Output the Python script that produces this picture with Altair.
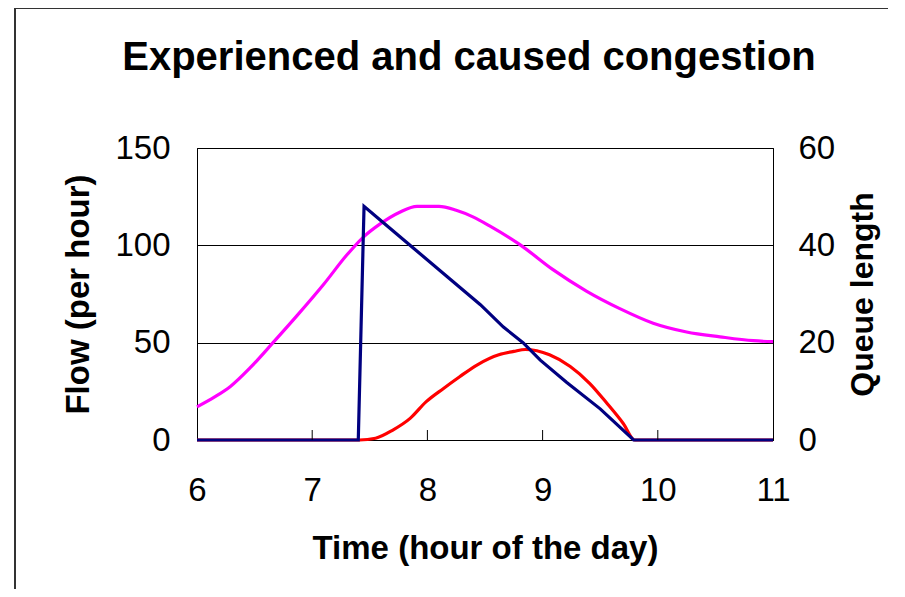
import altair as alt
import pandas as pd

# ---- data ----
flow_t = [6.0, 6.15, 6.29, 6.46, 6.66, 6.87, 7.10, 7.30, 7.44, 7.59, 7.76, 7.91, 8.00,
          8.10, 8.25, 8.40, 8.54, 8.80, 9.09, 9.38, 9.67, 9.96, 10.25, 10.54, 10.83, 11.0]
flow_v = [17, 22, 27.5, 37, 50, 64, 80, 95, 104, 111, 117, 120, 120,
          120, 118, 114.5, 110, 100.5, 87.5, 76.5, 67.5, 60, 55.5, 53, 51, 50.5]

caused_t = [6.0, 7.40, 7.45, 7.59, 7.88, 8.17, 8.46, 8.66, 8.83, 8.98, 9.21, 9.50, 9.79, 11.0]
caused_v = [0, 0, 120, 113, 98.5, 84, 69.5, 58, 50, 41, 29.5, 16, 0, 0]

queue_t = [6.0, 7.41, 7.55, 7.70, 7.85, 7.99, 8.14, 8.28, 8.43, 8.62, 8.75, 8.85,
           9.06, 9.24, 9.41, 9.56, 9.70, 9.80, 11.0]
queue_v = [0, 0, 0.36, 2.04, 4.44, 7.88, 10.6, 13.0, 15.4, 17.5, 18.2, 18.6,
           17.5, 15.1, 11.6, 7.5, 3.4, 0, 0]

x_ticks = [6, 7, 8, 9, 10, 11]
inner_ticks = [7, 8, 9, 10]
flow_ticks = [0, 50, 100, 150]
queue_ticks = [0, 20, 40, 60]
title_text = ["Experienced and caused congestion"]

W, H = 576, 292
FONT = "Liberation Sans"

flow_df = pd.DataFrame({"t": flow_t, "v": flow_v})
caused_df = pd.DataFrame({"t": caused_t, "v": caused_v})
queue_df = pd.DataFrame({"t": queue_t, "q": queue_v})
tick_df = pd.DataFrame({"t": inner_ticks})
title_df = pd.DataFrame({"label": title_text})

x_scale = alt.Scale(domain=[6, 11], nice=False, zero=False)
x_axis = alt.Axis(
    title="Time (hour of the day)", values=x_ticks, format="d",
    labelFontSize=33, labelPadding=60, labelBaseline="alphabetic",
    labelFlush=False, labelOverlap=False, ticks=False, tickSize=0,
    grid=False, domainColor="black",
    titleFontSize=33, titleX=W / 2, titleY=118, titleBaseline="alphabetic",
    titleAlign="center",
)
X = alt.X("t:Q", scale=x_scale, axis=x_axis)

flow_scale = alt.Scale(domain=[0, 150], nice=False)

flow = alt.Chart(flow_df).mark_line(
    color="#FF00FF", strokeWidth=3.2, interpolate="monotone"
).encode(
    x=X,
    y=alt.Y("v:Q", scale=flow_scale, axis=alt.Axis(
        title="Flow (per hour)", values=flow_ticks, orient="left",
        labelFontSize=33, labelPadding=27, ticks=False, tickSize=0,
        grid=True, gridColor="black", gridWidth=1, domainColor="black",
        titleFontSize=33, titleAngle=270, titleX=-119, titleY=H / 2,
        titleAlign="center", titleBaseline="middle",
    )),
)

queue = alt.Chart(queue_df).mark_line(
    color="#FF0000", strokeWidth=3.2, interpolate="monotone"
).encode(
    x=X,
    y=alt.Y("q:Q", scale=alt.Scale(domain=[0, 60], nice=False), axis=alt.Axis(
        title="Queue length", values=queue_ticks, orient="right",
        labelFontSize=33, labelPadding=25, ticks=False, tickSize=0,
        grid=False, domainColor="black",
        titleFontSize=32, titleAngle=270, titleX=89, titleY=H / 2,
        titleAlign="center", titleBaseline="middle",
    )),
)

caused = alt.Chart(caused_df).mark_line(
    color="#000080", strokeWidth=3.2
).encode(
    x=X,
    y=alt.Y("v:Q", scale=flow_scale, axis=None),
)

inner = alt.Chart(tick_df).mark_rule(color="black", strokeWidth=1).encode(
    x=X,
    y=alt.value(H - 10),
    y2=alt.value(H),
)

title = alt.Chart(title_df).mark_text(
    font=FONT, fontSize=40, fontWeight="bold", color="black",
    align="center", baseline="alphabetic",
).encode(
    text="label:N",
    x=alt.value(W / 2 - 16),
    y=alt.value(-78),
)

frame_df = pd.DataFrame({"k": [0]})
frame_top = alt.Chart(frame_df).mark_rule(color="#333333", strokeWidth=2).encode(
    x=alt.value(-182), x2=alt.value(720), y=alt.value(-140)
)
frame_left = alt.Chart(frame_df).mark_rule(color="#333333", strokeWidth=2).encode(
    x=alt.value(-182), y=alt.value(-140), y2=alt.value(460)
)

chart = alt.layer(
    flow, queue, caused, inner, title, frame_top, frame_left
).resolve_scale(
    y="independent"
).properties(
    width=W, height=H,
    autosize=alt.AutoSizeParams(type="none"),
    padding={"left": 189, "top": 140, "right": 115, "bottom": 149},
).configure(
    font=FONT, background="white",
).configure_view(
    stroke="black", strokeWidth=1,
).configure_axis(
    labelFont=FONT, titleFont=FONT, labelColor="black", titleColor="black",
    titleFontWeight="bold", domainWidth=1,
)

chart.save("out.html", embed_options={"renderer": "svg", "actions": False})
